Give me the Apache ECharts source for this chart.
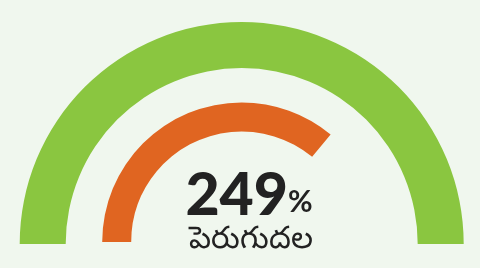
<!DOCTYPE html>
<html><head><meta charset="utf-8">
<script src="https://cdn.jsdelivr.net/npm/echarts@6/dist/echarts.min.js"></script>
<style>html,body{margin:0;padding:0;background:#f0f7ee}#c{width:480px;height:268px}</style>
</head><body><div id="c"></div>
<script>
const seriesNames = ['base', 'increase'];
const gaugeValues = [100, 72];
const gaugeMax = 100;
const valueText = '249';
const unitText = '%';
const labelText = 'పెరుగుదల';

const chart = echarts.init(document.getElementById('c'));
function gauge(name, value, center, radius, width, color) {
  return {
    type: 'gauge', name: name, center: center, radius: radius,
    startAngle: 180, endAngle: 0, min: 0, max: gaugeMax,
    animation: false,
    axisLine: { show: false },
    progress: { show: true, width: width, roundCap: false, itemStyle: { color: color } },
    axisTick: { show: false }, splitLine: { show: false }, axisLabel: { show: false },
    pointer: { show: false }, anchor: { show: false }, title: { show: false }, detail: { show: false },
    data: [{ value: value, name: name }]
  };
}
chart.setOption({
  backgroundColor: '#f0f7ee',
  title: [{
    text: '{a|' + valueText + '}{b|' + unitText + '}',
    left: 244, top: 161, textAlign: 'center',
    textStyle: { rich: {
      a: { fontFamily: 'Lato', fontWeight: 900, fontSize: 59, color: '#222222' },
      b: { fontFamily: 'Lato', fontWeight: 700, fontSize: 30, color: '#222222', verticalAlign: 'bottom', padding: [0,0,8,0] }
    } }
  }, {
    text: labelText, left: 246, top: 219, textAlign: 'center',
    textStyle: { fontFamily: 'Noto Sans', fontWeight: 500, fontSize: 31, color: '#222222' }
  }],
  series: [
    gauge(seriesNames[0], gaugeValues[0], [241.7, 244], 222, 46, '#8ac640'),
    gauge(seriesNames[1], gaugeValues[1], [241.7, 242], 139.5, 29, '#e06521')
  ]
});
</script></body></html>
